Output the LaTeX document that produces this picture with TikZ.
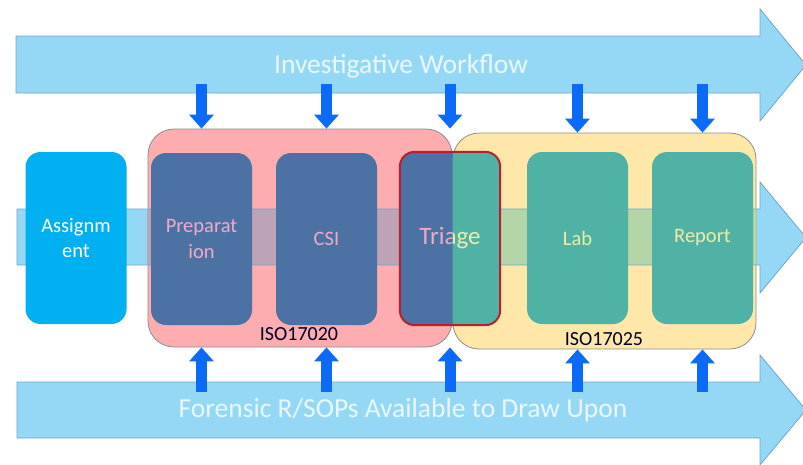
\documentclass[tikz,border=0pt]{standalone}
\usepackage{fontspec}
\setmainfont{Carlito}
\usetikzlibrary{arrows.meta}

\definecolor{bandblue}{HTML}{95D8F5}
\definecolor{bandline}{HTML}{6FA6C6}
\definecolor{bandtext}{HTML}{EAF7FD}
\definecolor{bandmauve}{HTML}{BCA3B5}
\definecolor{bandgreen}{HTML}{B4D5A8}
\definecolor{grppink}{HTML}{FDADAF}
\definecolor{grpyellow}{HTML}{FFE6A9}
\definecolor{grpline}{HTML}{8C8C8C}
\definecolor{assignblue}{HTML}{00B0F0}
\definecolor{stageblue}{HTML}{4C72A4}
\definecolor{stageteal}{HTML}{4FB2A4}
\definecolor{pinktext}{HTML}{EFAAC6}
\definecolor{yellowtext}{HTML}{EEEBA8}
\definecolor{triagered}{HTML}{B8202E}
\definecolor{feedblue}{HTML}{0B6AF8}

% middle band, drawn twice (fill, then its edges over the groups)
\newcommand\midband{(17,209) -- (760,209) -- (760,182) -- (806,237.5) -- (760,293) -- (760,265) -- (17,265) -- cycle}

\begin{document}
\begin{tikzpicture}[x=1pt,y=-1pt,
    band/.style={fill=bandblue,draw=bandline,line width=0.8pt},
    bandlabel/.style={text=bandtext,font=\fontsize{27.5}{32}\selectfont},
    group/.style={draw=grpline,line width=0.8pt,rounded corners=26pt,inner sep=0pt},
    stage/.style={rounded corners=15pt,minimum width=101pt,minimum height=172pt,
      inner sep=0pt,align=center,font=\fontsize{20.5}{25.5}\selectfont},
    isolabel/.style={text=black!85!blue,font=\fontsize{20}{23}\selectfont},
    feed/.style={line width=11pt,draw=feedblue,-{Triangle[width=24pt,length=14pt]}}]
  \useasboundingbox (0,0) rectangle (803,464);

  % the two big flow arrows
  \draw[band] (16,36) -- (760,36) -- (760,9) -- (806,65) -- (760,121) -- (760,93) -- (16,93) -- cycle;
  \draw[band] (17,382) -- (760,382) -- (760,355) -- (806,410) -- (760,465) -- (760,438) -- (17,438) -- cycle;
  \node[bandlabel] (flow) at (401,66) {Investigative Workflow};
  \node[bandlabel] (sops) at (403,410) {Forensic R/SOPs Available to Draw Upon};
  \coordinate (flow-out) at (0,84);
  \coordinate (sops-out) at (0,392);

  \fill[bandblue] \midband;

  % accreditation groups
  \node[group,fill=grppink,minimum width=304pt,minimum height=218pt] (g17020) at (300,238) {};
  \node[group,fill=grpyellow,minimum width=303pt,minimum height=216pt] (g17025) at (604.5,241) {};
  \begin{scope}
    \clip[rounded corners=26pt] (g17020.south west) rectangle (g17020.north east);
    \fill[bandmauve] (0,209) rectangle (803,265);
  \end{scope}
  \begin{scope}
    \clip[rounded corners=26pt] (g17025.south west) rectangle (g17025.north east);
    \fill[bandgreen] (0,209) rectangle (803,265);
  \end{scope}
  \draw[bandline,line width=0.8pt] \midband;

  % stages
  \node[stage,fill=assignblue,text=white] (assign) at (76,238) {Assignm\\ent};
  \node[stage,fill=stageblue,text=pinktext] (prep) at (201.5,239) {Preparat\\ion};
  \node[stage,fill=stageblue,text=pinktext] (csi) at (326.5,239) {CSI};
  \node[stage,fill=stageblue,text=pinktext,minimum width=100pt,minimum height=173pt,
    font=\fontsize{25}{30}\selectfont] (triage) at (450,238.5) {Triage};
  \begin{scope}
    \clip[rounded corners=26pt] (g17025.south west) rectangle (g17025.north east);
    \fill[stageteal,rounded corners=15pt] (triage.south west) rectangle (triage.north east);
    \node[text=yellowtext,font=\fontsize{25}{30}\selectfont] (triage-tint) at (triage) {Triage};
  \end{scope}
  \draw[triagered,line width=2pt,rounded corners=15pt] (triage.south west) rectangle (triage.north east);
  \node[stage,fill=stageteal,text=yellowtext] (lab) at (577.5,238) {Lab};
  \node[stage,fill=stageteal,text=yellowtext] (report) at (702.5,238) {Report};

  \node[isolabel] (iso17020) at (299,334) {ISO17020};
  \node[isolabel] (iso17025) at (604,339) {ISO17025};

  % what flows in from the two bands
  \foreach \s/\g in {prep/g17020,csi/g17020,triage/g17020,lab/g17025,report/g17025} {
    \draw[feed] (\s |- flow-out) -- (\s |- \g.north);
    \draw[feed] (\s |- sops-out) -- (\s |- \g.south);
  }
\end{tikzpicture}
\end{document}
